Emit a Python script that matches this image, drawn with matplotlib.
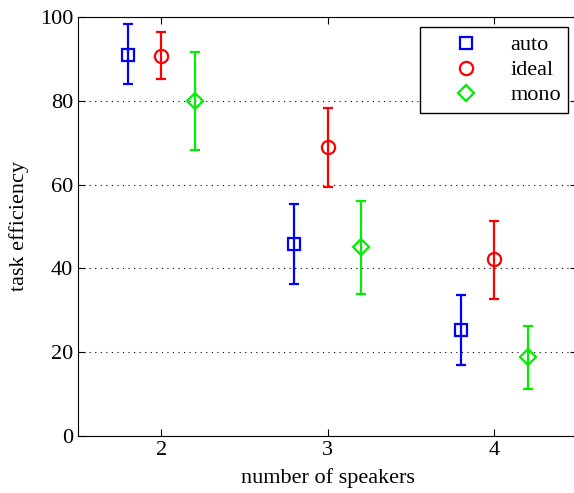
import numpy as np
import matplotlib; matplotlib.use("Agg")
import matplotlib.pyplot as plt

plt.rcParams["font.family"] = ["Liberation Serif", "DejaVu Serif"]

speakers = [2, 3, 4]
offset = {"auto": -0.2, "ideal": 0.0, "mono": 0.2}
mean = {"auto": [90.9, 45.8, 25.4],
        "ideal": [90.7, 69.0, 42.2],
        "mono": [80.0, 45.0, 18.9]}
upper = {"auto": [98.3, 55.4, 33.7],
         "ideal": [96.4, 78.3, 51.3],
         "mono": [91.6, 56.0, 26.3]}
lower = {"auto": [84.0, 36.3, 16.9],
         "ideal": [85.2, 59.4, 32.7],
         "mono": [68.3, 33.9, 11.2]}
style = {"auto": ("s", "#0000ff", 8), "ideal": ("o", "#ff0000", 9.5), "mono": ("D", "#00ee00", 8)}
fs = 16

fig = plt.figure(figsize=(5.74, 4.93), dpi=100)
ax = fig.add_axes([0.136, 0.1156, 0.87, 0.85])

for name in ["auto", "ideal", "mono"]:
    m, c, ms = style[name]
    x = np.array(speakers) + offset[name]
    y = np.array(mean[name])
    err = [y - np.array(lower[name]), np.array(upper[name]) - y]
    ax.errorbar(x, y, yerr=err, fmt=m, color=c, mfc="none", mec=c, mew=1.6,
                ms=ms, elinewidth=1.6, capsize=3.5, capthick=1.6, label=name)

ax.set_xlim(1.5, 4.5); ax.set_ylim(0, 100)
ax.set_xticks(speakers); ax.set_yticks(np.arange(0, 101, 20))
ax.yaxis.grid(True, linestyle=(0, (1, 4)), color="k", lw=0.8)
ax.tick_params(direction="in", top=True, right=True, labelsize=fs, length=5)
ax.set_xlabel("number of speakers", fontsize=fs, labelpad=6)
ax.set_ylabel("task efficiency", fontsize=fs, labelpad=8)

h, l = ax.get_legend_handles_labels()
h = [hh[0] for hh in h]
leg = ax.legend(h, l, loc="upper right", fontsize=fs, fancybox=False, edgecolor="k",
                framealpha=1, handlelength=3.4, borderpad=0.35, labelspacing=0.2,
                handletextpad=0.3, borderaxespad=0, bbox_to_anchor=(0.982, 0.976))
leg.get_frame().set_linewidth(1.0)

fig.savefig("out.png", dpi=100)
